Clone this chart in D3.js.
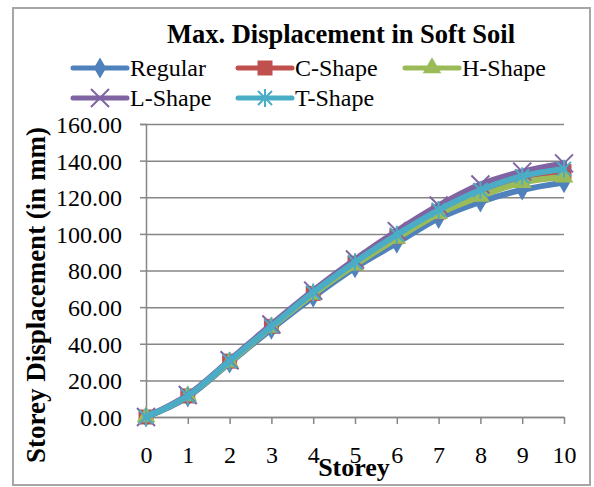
<!DOCTYPE html>
<html>
<head>
<meta charset="utf-8">
<script src="https://cdn.jsdelivr.net/npm/d3@7"></script>
<style>
  body { margin: 0; background: #fff; }
  text { font-family: "Liberation Serif", "Times New Roman", serif; fill: #000; }
</style>
</head>
<body>
<div id="chart"></div>
<script>
// storey numbers and displacement (mm) per building shape
var storeys = [0, 1, 2, 3, 4, 5, 6, 7, 8, 9, 10];
var regular = [0, 11, 29.5, 48, 65.5, 81.5, 95, 108.5, 117.5, 124, 128];
var cShape  = [0, 11.5, 30.5, 49.5, 67.5, 84, 98.5, 112, 123, 131, 134];
var hShape  = [0, 11.5, 30, 49, 67, 83, 97.5, 111, 120.5, 128, 131];
var lShape  = [0, 12, 31, 50.5, 69, 86, 101.5, 115.5, 127, 134, 138.5];
var tShape  = [0, 11.5, 30.5, 49.5, 68, 84.5, 99.5, 113, 124, 131.5, 135.5];
var seriesNames = ["Regular", "C-Shape", "H-Shape", "L-Shape", "T-Shape"];
var yTicks = [0, 20, 40, 60, 80, 100, 120, 140, 160];

var colors = ["#4F81BD", "#C0504D", "#9BBB59", "#8064A2", "#4BACC6"];
var markers = ["diamond", "square", "triangle", "x", "star"];
var allValues = [regular, cShape, hShape, lShape, tShape];

var series = seriesNames.map(function(name, i){
    return {
        name: name, color: colors[i], marker: markers[i],
        values: storeys.map(function(s, j){ return {x: s, y: allValues[i][j]}; })
    };
});

var W = 594, H = 487;
var margin = {top: 124, right: 30, bottom: 70, left: 146};
var width = 564 - margin.left, height = 417 - margin.top;

var root = d3.select("#chart").append("svg")
    .attr("width", W).attr("height", H);

// outer chart border
root.append("rect")
    .attr("x", 13).attr("y", 8).attr("width", 577).attr("height", 477)
    .attr("fill", "#fff").attr("stroke", "#a6a6a6").attr("stroke-width", 2);

root.append("text")
    .attr("x", 341).attr("y", 43)
    .attr("text-anchor", "middle")
    .style("font-size", "26.5px").style("font-weight", "bold")
    .text("Max. Displacement in Soft Soil");

var svg = root.append("g")
    .attr("transform", "translate(" + margin.left + "," + margin.top + ")");

var x = d3.scaleLinear().domain([0, 10]).range([0, width]);
var y = d3.scaleLinear().domain([0, 160]).range([height, 0]);

// gridlines
svg.append("g")
    .attr("class", "grid")
    .call(d3.axisLeft(y).tickValues(yTicks).tickSize(-width).tickFormat(""))
    .call(function(g){
        g.select(".domain").remove();
        g.selectAll("line").attr("stroke", "#868686").attr("stroke-width", 1.5);
    });

var yAxis = svg.append("g")
    .call(d3.axisLeft(y).tickValues(yTicks).tickSize(6).tickPadding(18)
        .tickFormat(d3.format(".2f")));
yAxis.select(".domain").attr("stroke", "#868686").attr("stroke-width", 1.5);
yAxis.selectAll(".tick line").attr("stroke", "#868686").attr("stroke-width", 1.5);
yAxis.selectAll("text").style("font-size", "24px").attr("dy", "0.35em");

var xAxis = svg.append("g")
    .attr("transform", "translate(0," + height + ")")
    .call(d3.axisBottom(x).tickValues(storeys).tickSize(7).tickPadding(22)
        .tickSizeOuter(0).tickFormat(d3.format("d")));
xAxis.select(".domain").attr("stroke", "#868686").attr("stroke-width", 1.5);
xAxis.selectAll(".tick line").attr("stroke", "#868686").attr("stroke-width", 1.5);
xAxis.selectAll("text").style("font-size", "24px");

// axis titles
root.append("text")
    .attr("transform", "translate(45,295) rotate(-90)")
    .attr("text-anchor", "middle")
    .style("font-size", "27px").style("font-weight", "bold")
    .text("Storey Displacement (in mm)");

root.append("text")
    .attr("x", 354).attr("y", 476)
    .attr("text-anchor", "middle")
    .style("font-size", "26px").style("font-weight", "bold")
    .text("Storey");

function drawMarker(g, type, color){
    if (type === "diamond") {
        g.append("path").attr("d", d3.symbol(d3.symbolDiamond, 130)())
            .attr("fill", color);
    } else if (type === "square") {
        g.append("path").attr("d", d3.symbol(d3.symbolSquare, 225)())
            .attr("fill", color);
    } else if (type === "triangle") {
        g.append("path").attr("d", d3.symbol(d3.symbolTriangle, 150)())
            .attr("fill", color);
    } else if (type === "x") {
        g.append("path").attr("d", "M-9,-9L9,9M-9,9L9,-9")
            .attr("stroke", color).attr("stroke-width", 2).attr("fill", "none");
    } else if (type === "star") {
        g.append("path").attr("d", "M-7,-7L7,7M-7,7L7,-7M0,-9L0,9")
            .attr("stroke", color).attr("stroke-width", 2).attr("fill", "none");
    }
}

var line = d3.line()
    .x(function(d){ return x(d.x); })
    .y(function(d){ return y(d.y); })
    .curve(d3.curveCardinal.tension(0));

series.forEach(function(s){
    var g = svg.append("g").attr("class", "series");
    g.append("path")
        .datum(s.values)
        .attr("d", line)
        .attr("fill", "none")
        .attr("stroke", s.color)
        .attr("stroke-width", 6)
        .attr("stroke-linecap", "round");
    g.selectAll(".pt")
        .data(s.values).enter()
        .append("g")
        .attr("class", "pt")
        .attr("transform", function(d){ return "translate(" + x(d.x) + "," + y(d.y) + ")"; })
        .each(function(){ drawMarker(d3.select(this), s.marker, s.color); });
});

// legend
var legendPos = [[73, 68], [238, 68], [405, 68], [73, 98], [238, 98]];
var legend = root.selectAll(".legend")
    .data(series).enter()
    .append("g")
    .attr("class", "legend")
    .attr("transform", function(d, i){ return "translate(" + legendPos[i][0] + "," + legendPos[i][1] + ")"; });

legend.append("line")
    .attr("x1", 0).attr("x2", 54).attr("y1", 0).attr("y2", 0)
    .attr("stroke", function(d){ return d.color; })
    .attr("stroke-width", 5)
    .attr("stroke-linecap", "round");

legend.each(function(d){
    var m = d3.select(this).append("g").attr("transform", "translate(27,0)");
    drawMarker(m, d.marker, d.color);
});

legend.append("text")
    .attr("x", 57).attr("y", 0).attr("dy", "0.35em")
    .style("font-size", "24px")
    .text(function(d){ return d.name; });
</script>
</body>
</html>
